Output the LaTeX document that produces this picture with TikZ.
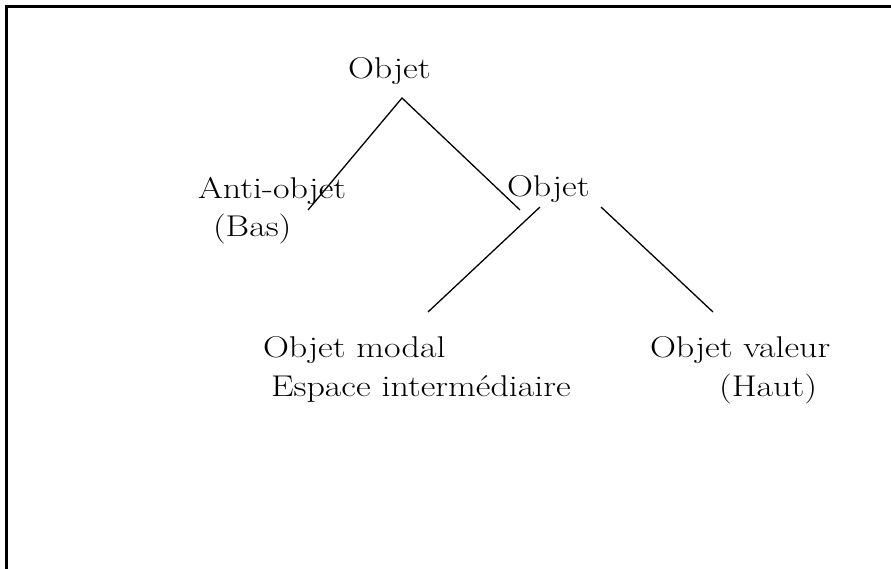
\documentclass[tikz,border=0pt]{standalone}
\usepackage{fontspec}
\newcommand{\hst}[1]{\scalebox{1.2}[1]{#1}}
\begin{document}
\begin{tikzpicture}[x=1pt,y=-1pt,
  lbl/.style={anchor=base west,inner sep=0pt,outer sep=0pt,font=\fontsize{30}{34}\selectfont},
  branch/.style={line width=1.3pt,black},
  framel/.style={line width=2.2pt,black}]
\useasboundingbox (0,0) rectangle (891,569);
% frame
\coordinate (fTL) at (6.5,6.5);
\coordinate (fTR) at (891,6.5);
\coordinate (fBL) at (6.5,569);
\draw[framel] (fTR) -- (fTL) -- (fBL);
% labels
\node[lbl] (root) at (348,79) {\hst{Objet}};
\node[lbl] (anti) at (198,199) {\hst{Anti-objet}};
\node[lbl] (bas) at (213,237) {\hst{(Bas)}};
\node[lbl] (mid) at (507,197) {\hst{Objet}};
\node[lbl] (modal) at (263,357) {\hst{Objet modal}};
\node[lbl] (espace) at (271,396) {\hst{Espace intermédiaire}};
\node[lbl] (valeur) at (650,357) {\hst{Objet valeur}};
\node[lbl] (haut) at (719,396) {\hst{(Haut)}};
% branch end points
\coordinate (apex) at (402,98);
\coordinate (antiEnd) at (308,210);
\coordinate (midIn) at (520,210);
\coordinate (midL) at (540,207);
\coordinate (modalEnd) at (428,312);
\coordinate (midR) at (601,207);
\coordinate (valeurEnd) at (713,312);
\draw[branch] (antiEnd) -- (apex) -- (midIn);
\draw[branch] (midL) -- (modalEnd);
\draw[branch] (midR) -- (valeurEnd);
\end{tikzpicture}
\end{document}
